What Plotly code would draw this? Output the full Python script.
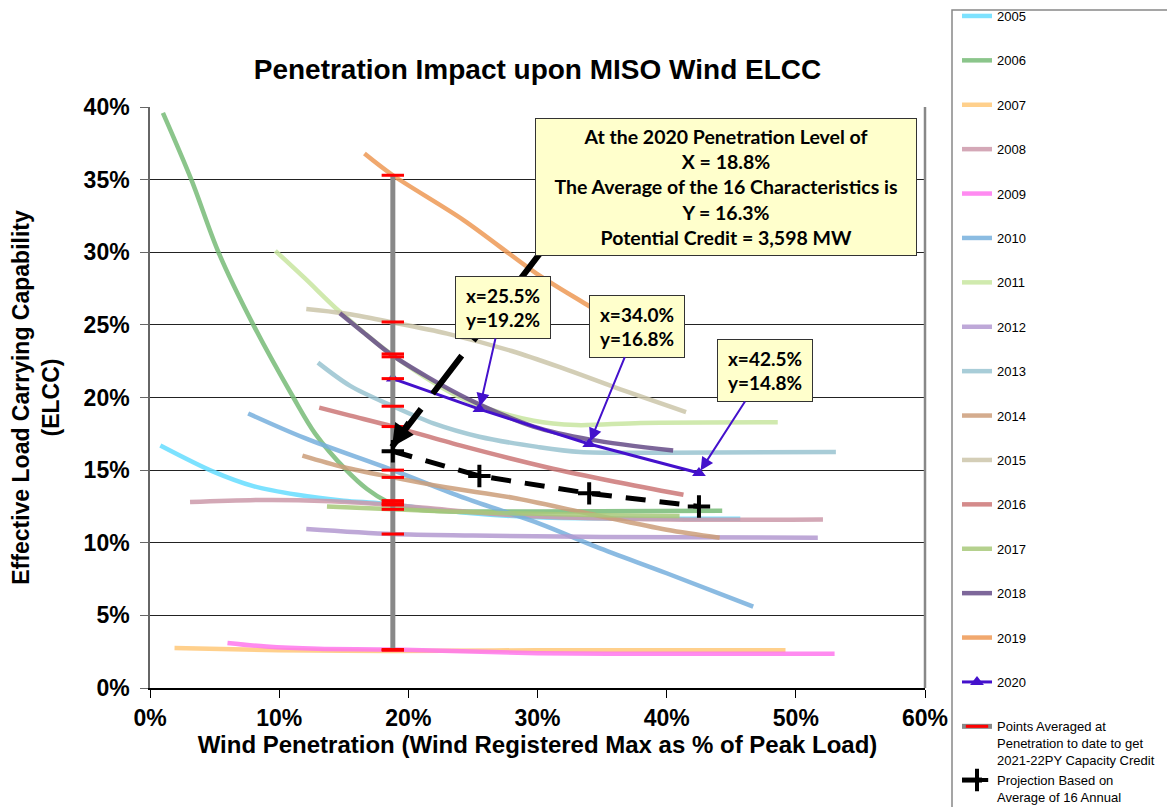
import plotly.graph_objects as go

# ---------------- data ----------------
years = ["2005", "2006", "2007", "2008", "2009", "2010", "2011", "2012",
         "2013", "2014", "2015", "2016", "2017", "2018", "2019", "2020"]

x2005 = [0.8, 4.9, 8, 11.4, 15, 18, 24, 30, 38, 45.7]
y2005 = [16.7, 14.9, 13.9, 13.3, 12.9, 12.7, 12.1, 11.75, 11.65, 11.65]
x2006 = [1, 3.2, 5.3, 8, 11.1, 12.8, 15.2, 16.8, 18.4, 19.5, 22, 30, 44.3]
y2006 = [39.6, 35, 30, 25, 20, 17.5, 15, 13.7, 12.8, 12.4, 12.2, 12.15, 12.2]
x2007 = [1.9, 10, 18.8, 30, 49.2]
y2007 = [2.75, 2.6, 2.55, 2.6, 2.6]
x2008 = [3.1, 9.3, 14, 18.8, 25, 30, 40, 52.1]
y2008 = [12.8, 12.95, 12.85, 12.6, 12.1, 11.8, 11.6, 11.6]
x2009 = [6, 9, 13, 18.8, 30, 40, 53]
y2009 = [3.1, 2.85, 2.7, 2.65, 2.4, 2.35, 2.35]
x2010 = [7.6, 12, 18.8, 24, 30.2, 34.6, 40, 46.7]
y2010 = [18.9, 17.2, 15.0, 13.2, 11.3, 9.7, 7.9, 5.6]
x2011 = [9.7, 12, 14.7, 18.8, 24.5, 29.7, 33, 38, 48.6]
y2011 = [30.1, 28.2, 25.9, 22.9, 19.8, 18.4, 18.1, 18.25, 18.3]
x2012 = [12.1, 18.8, 25, 35, 51.7]
y2012 = [10.95, 10.6, 10.5, 10.4, 10.35]
x2013 = [13, 15.5, 18.8, 22, 25.5, 30, 33.3, 40, 53.1]
y2013 = [22.4, 20.8, 19.4, 18.2, 17.3, 16.6, 16.25, 16.2, 16.25]
x2014 = [11.8, 15, 18.8, 23, 28.1, 34, 40, 44.1]
y2014 = [16.0, 15.2, 14.5, 13.8, 13.1, 12.0, 10.9, 10.35]
x2015 = [12.1, 15, 18.6, 23, 28, 32, 36, 41.5]
y2015 = [26.1, 25.8, 25.2, 24.4, 23.2, 22.0, 20.7, 19.0]
x2016 = [13.1, 15.5, 18.8, 24, 30.7, 36, 41.3]
y2016 = [19.3, 18.75, 18.0, 16.7, 15.2, 14.2, 13.3]
x2017 = [13.7, 18.8, 25, 35, 41]
y2017 = [12.5, 12.3, 12.1, 11.9, 11.85]
x2018 = [14.7, 16.5, 18.6, 21.5, 24.5, 29.7, 34.1, 40.5]
y2018 = [25.8, 24.5, 23.0, 21.4, 19.95, 18.0, 17.1, 16.35]
x2019 = [16.6, 18.8, 24.3, 29.9, 33.8, 36]
y2019 = [36.8, 35.3, 32.2, 28.55, 26.4, 25.2]
x2020 = [18.8, 25.5, 34.0, 42.5]
y2020 = [21.3, 19.2, 16.8, 14.8]

# ELCC of each annual characteristic at the 2020 penetration (18.8%)
pen_2020 = 18.8
avg_points = [12.7, 12.9, 2.6, 12.6, 2.65, 15.0, 23.0, 10.6,
              19.4, 14.5, 25.2, 18.0, 12.3, 22.8, 35.3, 21.3]

proj_x = [18.8, 25.5, 34.0, 42.5]
proj_y = [16.3, 14.6, 13.4, 12.5]

colors = ["#66DDFF", "#77BB77", "#FFC878", "#CC99AA", "#FF77EE", "#77B0DD",
          "#C8E6A0", "#B399D1", "#99C4D1", "#CC9E7A", "#CCC6AA", "#CC7777",
          "#A8C97A", "#664C88", "#EE9955", "#4411CC"]

series_x = [x2005, x2006, x2007, x2008, x2009, x2010, x2011, x2012,
            x2013, x2014, x2015, x2016, x2017, x2018, x2019]
series_y = [y2005, y2006, y2007, y2008, y2009, y2010, y2011, y2012,
            y2013, y2014, y2015, y2016, y2017, y2018, y2019]

BOX_FONT = "Lato, Carlito, Calibri, sans-serif"
AX_FONT = "Liberation Sans, Arial, sans-serif"

# figure geometry (the page adds an 8px body margin)
W, H = 1167, 799
ML, MR, MT, MB = 142, 250, 99, 119
PW, PH = W - ML - MR, H - MT - MB

fig = go.Figure()

for i, (xs, ys) in enumerate(zip(series_x, series_y)):
    fig.add_trace(go.Scatter(
        x=xs, y=ys, mode="lines", name=years[i], legendgroup=years[i],
        line=dict(color=colors[i], width=4.5, shape="spline", smoothing=0.9),
        opacity=0.85,
    ))

fig.add_trace(go.Scatter(
    x=x2020, y=y2020, mode="lines+markers", name="2020", legendgroup="2020",
    line=dict(color=colors[15], width=3),
    marker=dict(symbol="triangle-up", size=12, color=colors[15]),
))

fig.add_trace(go.Scatter(
    x=[pen_2020] * len(avg_points), y=sorted(avg_points), mode="lines+markers",
    name="Points Averaged at<br>Penetration to date to get<br>2021-22PY Capacity Credit",
    legendgroup="tail",
    line=dict(color="#888888", width=5),
    marker=dict(symbol="line-ew", size=16, color="red",
                line=dict(color="red", width=3)),
))

fig.add_trace(go.Scatter(
    x=proj_x, y=proj_y, mode="lines+markers",
    name="Projection Based on<br>Average of 16 Annual<br>Characteristics",
    legendgroup="tail",
    line=dict(color="black", width=5, dash="20px,14px"),
    marker=dict(symbol="cross-thin", size=16, color="black",
                line=dict(color="black", width=4)),
))

frame_left = (944 - ML) / PW          # legend frame left edge (page x = 952)
frame_top = 1 + (MT - 2) / PH         # legend frame top edge (page y = 10)
shapes = [
    # dashed black arrow shaft (from the main text box towards the projection start)
    dict(type="line", xref="x", yref="y", x0=18.73, y0=16.59, x1=30.6, y1=30.4,
         line=dict(color="black", width=6, dash="48px,19px"), layer="above"),
    # right frame of the plot area
    dict(type="line", xref="paper", yref="paper", x0=1, x1=1, y0=0, y1=1,
         line=dict(color="#888888", width=2.5), layer="above"),
    # legend frame
    dict(type="rect", xref="paper", yref="paper", x0=frame_left, x1=1.5,
         y0=-0.5, y1=frame_top,
         line=dict(color="#888888", width=1.5), fillcolor="rgba(0,0,0,0)", layer="above"),
]

annotations = [
    dict(x=18.73, y=16.59, ax=20.1, ay=18.4, xref="x", yref="y", axref="x", ayref="y",
         text="", showarrow=True, arrowhead=2, arrowsize=0.9, arrowwidth=5,
         arrowcolor="black"),
    dict(x=44.63, y=34.46, xref="x", yref="y", showarrow=False,
         text=("<b>At the 2020 Penetration Level of<br>X = 18.8%<br>"
               "The Average of the 16 Characteristics is<br>Y = 16.3%<br>"
               "Potential Credit = 3,598 MW</b>"),
         font=dict(family=BOX_FONT, size=19.5, color="black"),
         bgcolor="#FFFFCC", bordercolor="#333333", borderwidth=1,
         width=378, height=134, align="center", valign="middle"),
]

callouts = [(25.5, 19.2, 27.29, 26.2), (34.0, 16.8, 37.74, 24.92), (42.5, 14.8, 47.61, 21.86)]
for (px, py, bx, by) in callouts:
    annotations.append(dict(
        x=px, y=py, ax=bx, ay=by, xref="x", yref="y", axref="x", ayref="y",
        text=f"<b>x={px:.1f}%<br>y={py:.1f}%</b>", showarrow=True,
        arrowhead=2, arrowsize=1.3, arrowwidth=2, arrowcolor=colors[15], standoff=3,
        font=dict(family=BOX_FONT, size=19, color="black"),
        bgcolor="#FFFFCC", bordercolor="#333333", borderwidth=1,
        width=92, height=59, align="center", valign="middle",
    ))

fig.update_layout(
    width=W, height=H, autosize=False,
    margin=dict(l=ML, r=MR, t=MT, b=MB, autoexpand=False),
    plot_bgcolor="white", paper_bgcolor="white",
    title=dict(text="<b>Penetration Impact upon MISO Wind ELCC</b>",
               x=0.5, xref="paper", xanchor="center",
               y=1 - 61 / H, yref="container", yanchor="middle",
               font=dict(family=AX_FONT, size=28, color="black")),
    xaxis=dict(range=[0, 60], dtick=10, ticksuffix="%", showgrid=False, zeroline=False,
               showline=True, linecolor="black", linewidth=1.5, automargin=False,
               ticks="outside", ticklen=8, tickcolor="black", tickwidth=1,
               ticklabelstandoff=1,
               tickfont=dict(family=AX_FONT, size=23, color="black", weight="bold"),
               title=dict(text="<b>Wind Penetration (Wind Registered Max as % of Peak Load)</b>",
                          font=dict(family=AX_FONT, size=24, color="black"), standoff=0)),
    yaxis=dict(range=[0, 40], dtick=5, ticksuffix="%", showgrid=True, gridcolor="#222222",
               gridwidth=1, zeroline=False, automargin=False,
               showline=True, linecolor="#666666", linewidth=1.5,
               ticks="outside", ticklen=8, tickcolor="#666666", tickwidth=1,
               ticklabelstandoff=6,
               tickfont=dict(family=AX_FONT, size=23, color="black", weight="bold"),
               title=dict(text="<b>Effective Load Carrying Capability<br>(ELCC)</b>",
                          font=dict(family=AX_FONT, size=23, color="black"), standoff=18)),
    legend=dict(x=frame_left + 5 / PW, xanchor="left", y=1 + (MT + 7) / PH, yanchor="top",
                bgcolor="rgba(0,0,0,0)", borderwidth=0,
                font=dict(family=AX_FONT, size=13, color="black"),
                tracegroupgap=24.5, valign="top", maxheight=2000),
    annotations=annotations,
    shapes=shapes,
)

fig.write_html("out.html")
